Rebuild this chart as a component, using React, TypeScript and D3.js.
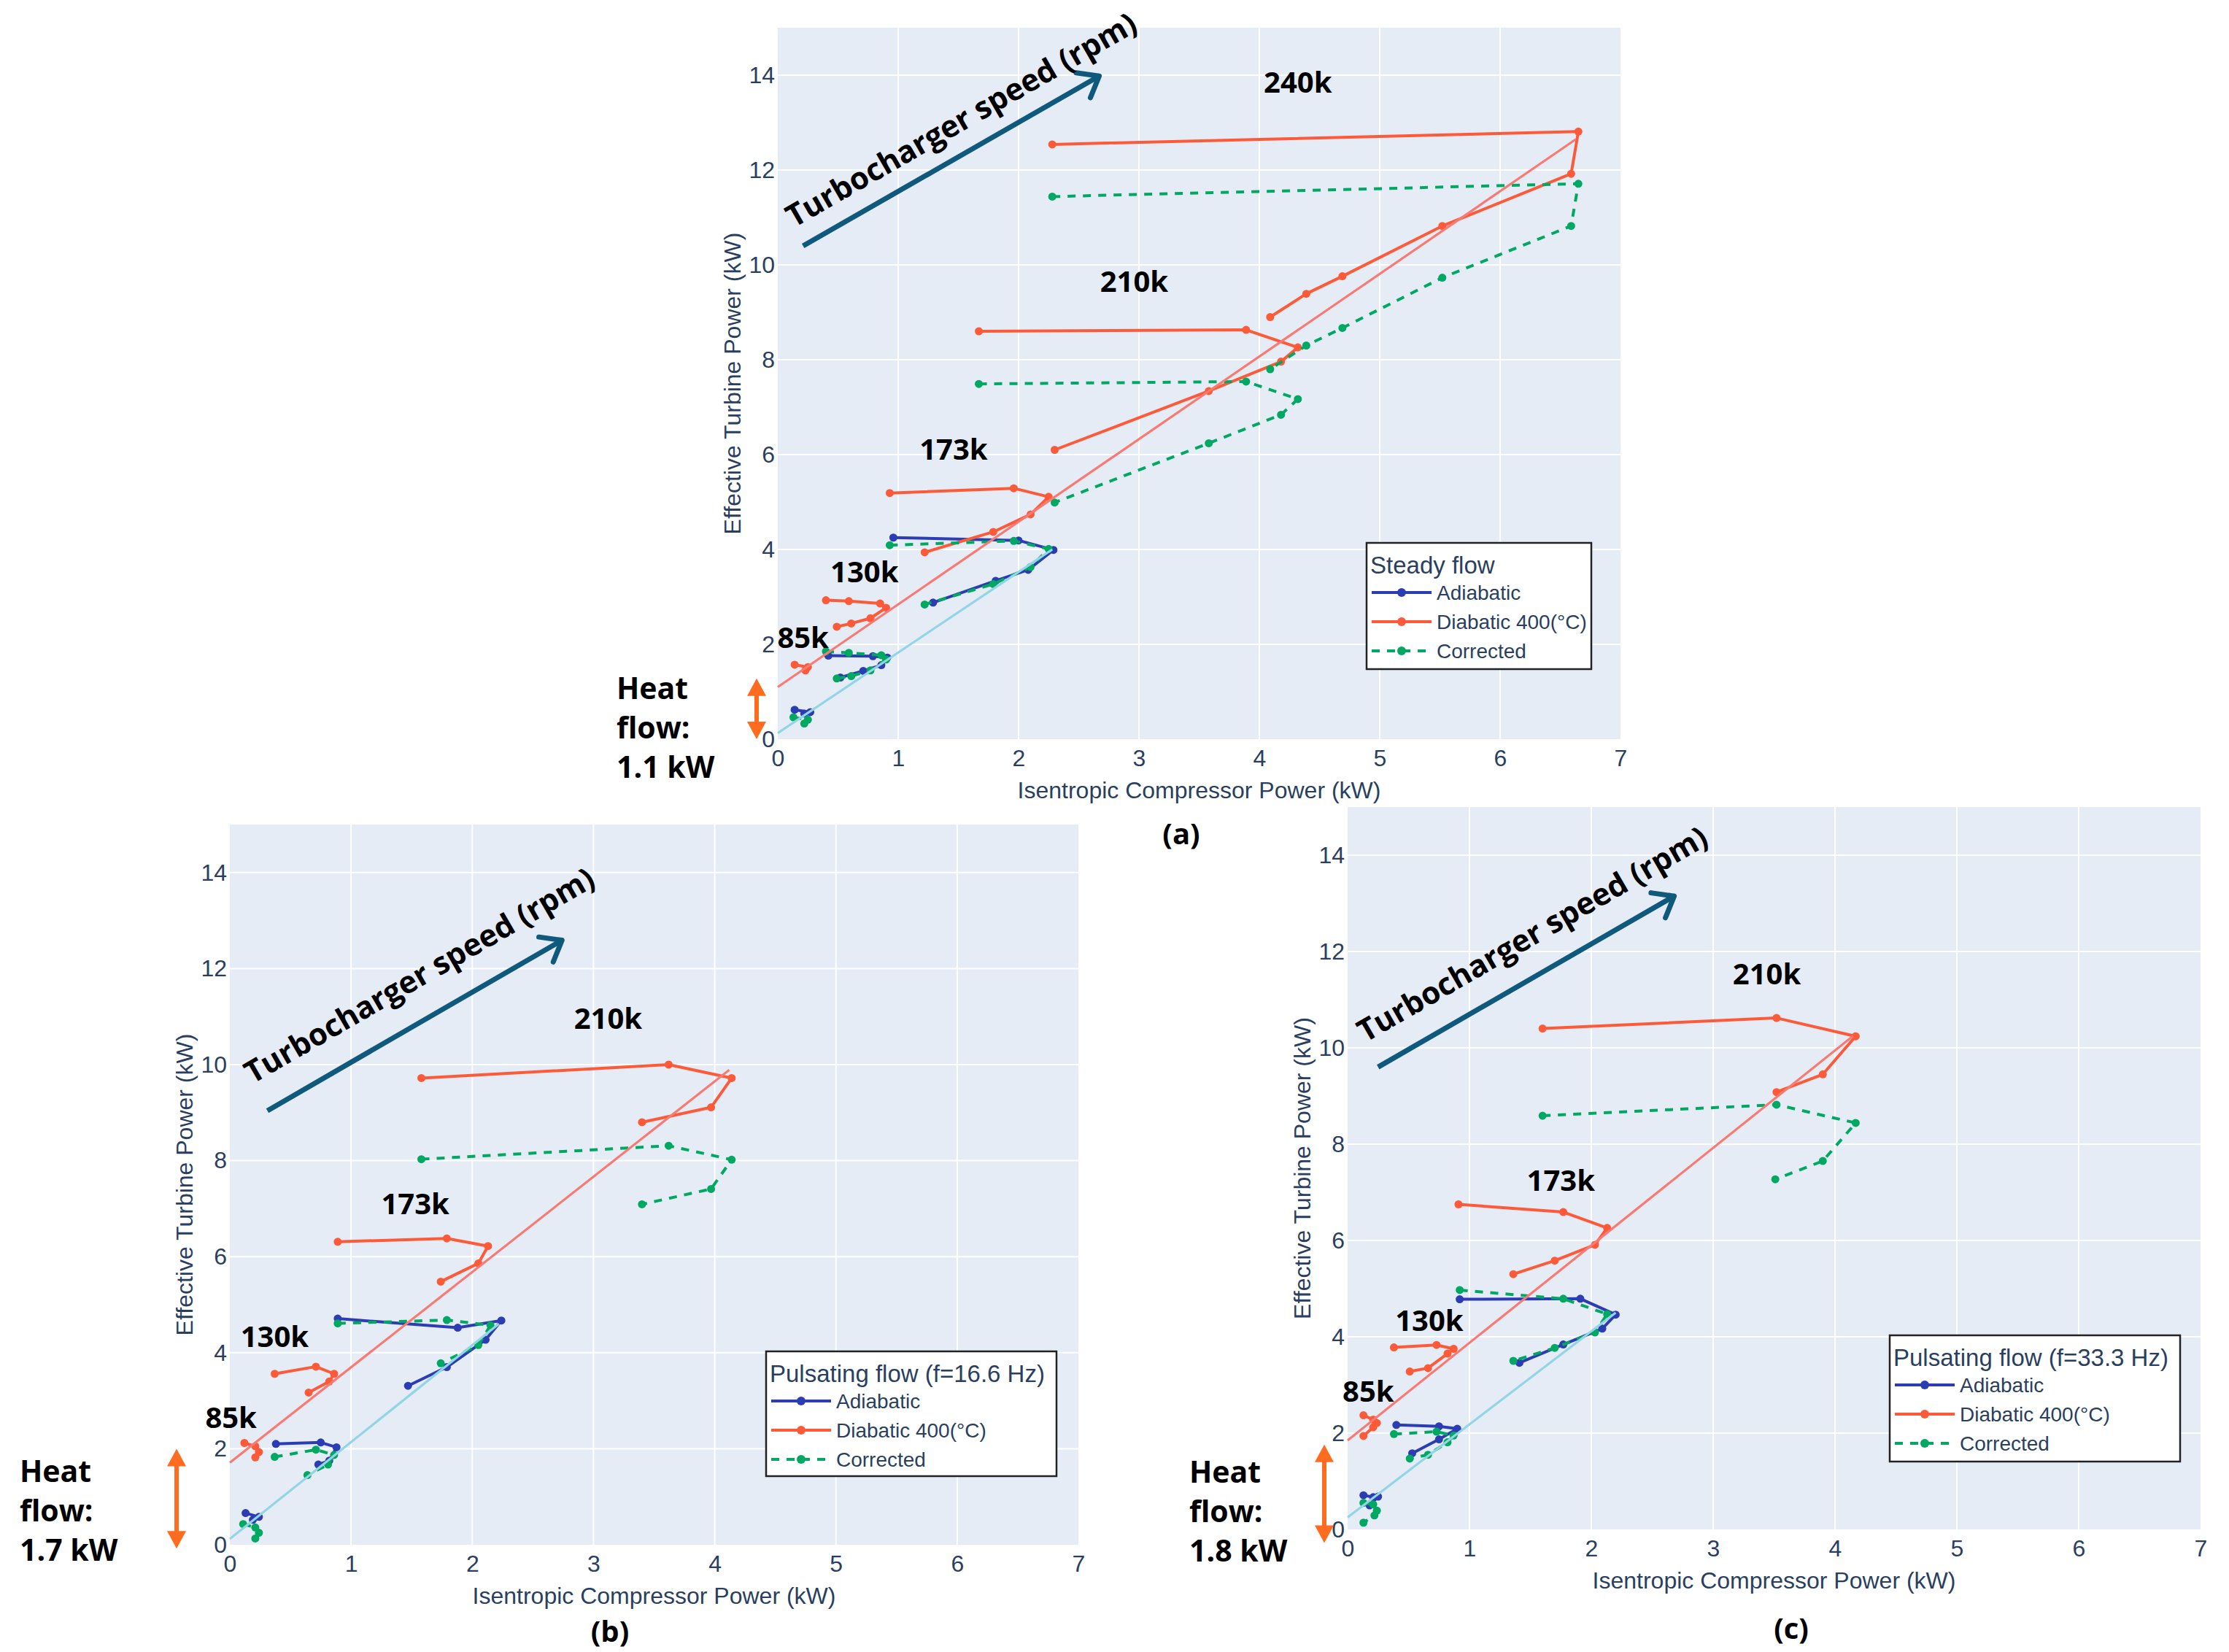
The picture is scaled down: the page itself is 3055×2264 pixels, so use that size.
import React, { useEffect, useRef } from "react";
import * as d3 from "d3";

type Pt = [number, number];

// shared axis ticks and legend entries
const xTicks = [0, 1, 2, 3, 4, 5, 6, 7];
const yTicks = [0, 2, 4, 6, 8, 10, 12, 14];
const seriesNames = ["Adiabatic", "Diabatic 400(°C)", "Corrected"];

// ---- (a) steady flow
const aAdiabatic: Pt[][] = [
  [[0.14, 0.62], [0.27, 0.57], [0.22, 0.54]],
  [[0.42, 1.76], [0.79, 1.75], [0.91, 1.72], [0.86, 1.56], [0.71, 1.44], [0.52, 1.3]],
  [[0.96, 4.25], [2.0, 4.19], [2.29, 3.99], [2.08, 3.57], [1.81, 3.34], [1.29, 2.88]],
];
const aDiabatic: Pt[][] = [
  [[0.14, 1.57], [0.25, 1.52], [0.23, 1.45]],
  [[0.4, 2.93], [0.59, 2.91], [0.85, 2.86], [0.9, 2.77], [0.77, 2.55], [0.61, 2.44], [0.49, 2.37]],
  [[0.93, 5.19], [1.96, 5.29], [2.25, 5.11], [2.1, 4.74], [1.79, 4.37], [1.22, 3.94]],
  [[1.67, 8.6], [3.89, 8.63], [4.32, 8.26], [4.18, 7.96], [3.58, 7.34], [2.3, 6.1]],
  [[2.28, 12.54], [6.65, 12.81], [6.59, 11.92], [5.52, 10.82], [4.69, 9.76], [4.39, 9.39], [4.09, 8.9]],
];
const aCorrected: Pt[][] = [
  [[0.13, 0.46], [0.25, 0.41], [0.22, 0.33]],
  [[0.4, 1.85], [0.59, 1.82], [0.86, 1.77], [0.9, 1.68], [0.77, 1.45], [0.61, 1.33], [0.49, 1.28]],
  [[0.93, 4.09], [1.96, 4.18], [2.25, 4.01], [2.1, 3.63], [1.79, 3.27], [1.22, 2.84]],
  [[1.67, 7.49], [3.89, 7.54], [4.32, 7.17], [4.18, 6.84], [3.58, 6.24], [2.3, 4.99]],
  [[2.28, 11.44], [6.65, 11.71], [6.59, 10.82], [5.52, 9.73], [4.69, 8.67], [4.39, 8.3], [4.09, 7.8]],
];
const aRefDiabatic: Pt[] = [[0, 1.1], [6.63, 12.65]];
const aRefAdiabatic: Pt[] = [[0, 0.13], [2.28, 4.0]];
const aSpeeds = ["85k", "130k", "173k", "210k", "240k"];
const aSpeedAt: Pt[] = [[0.21, 2.16], [0.72, 3.55], [1.46, 6.13], [2.96, 9.67], [4.32, 13.87]];
const aTurbo: Pt[] = [[0.21, 10.4], [2.67, 13.98]];
const aHeat = [0, 1.28];

// ---- (b) pulsating flow 16.6 Hz
const bAdiabatic: Pt[][] = [
  [[0.13, 0.66], [0.24, 0.58], [0.19, 0.52]],
  [[0.38, 2.1], [0.75, 2.13], [0.88, 2.03], [0.82, 1.75], [0.73, 1.67]],
  [[0.89, 4.71], [1.88, 4.52], [2.24, 4.67], [2.11, 4.27], [1.79, 3.7], [1.47, 3.31]],
];
const bDiabatic: Pt[][] = [
  [[0.12, 2.12], [0.21, 2.05], [0.24, 1.93], [0.21, 1.82]],
  [[0.37, 3.56], [0.71, 3.71], [0.86, 3.56], [0.82, 3.4], [0.65, 3.17]],
  [[0.89, 6.31], [1.79, 6.38], [2.13, 6.22], [2.05, 5.86], [1.74, 5.48]],
  [[1.58, 9.72], [3.62, 10.0], [4.14, 9.72], [3.97, 9.11], [3.4, 8.8]],
];
const bCorrected: Pt[][] = [
  [[0.11, 0.43], [0.21, 0.36], [0.24, 0.25], [0.21, 0.13]],
  [[0.37, 1.83], [0.71, 1.98], [0.86, 1.87], [0.81, 1.67], [0.64, 1.45]],
  [[0.89, 4.61], [1.79, 4.68], [2.15, 4.57], [2.05, 4.16], [1.74, 3.78]],
  [[1.58, 8.03], [3.62, 8.31], [4.14, 8.02], [3.97, 7.41], [3.4, 7.09]],
];
const bRefDiabatic: Pt[] = [[0, 1.71], [4.12, 9.89]];
const bRefAdiabatic: Pt[] = [[0, 0.12], [2.22, 4.6]];
const bSpeeds = ["85k", "130k", "173k", "210k"];
const bSpeedAt: Pt[] = [[0.01, 2.67], [0.37, 4.36], [1.53, 7.12], [3.12, 10.98]];
const bTurbo: Pt[] = [[0.31, 9.04], [2.74, 12.59]];
const bHeat = [-0.08, 2.0];

// ---- (c) pulsating flow 33.3 Hz
const cAdiabatic: Pt[][] = [
  [[0.13, 0.71], [0.21, 0.67], [0.25, 0.68], [0.18, 0.5]],
  [[0.4, 2.17], [0.75, 2.14], [0.9, 2.09], [0.75, 1.87], [0.53, 1.58]],
  [[0.92, 4.78], [1.91, 4.79], [2.2, 4.46], [2.09, 4.17], [1.77, 3.84], [1.41, 3.46]],
];
const cDiabatic: Pt[][] = [
  [[0.13, 2.37], [0.21, 2.28], [0.24, 2.21], [0.21, 2.12], [0.13, 1.94]],
  [[0.38, 3.78], [0.73, 3.83], [0.87, 3.75], [0.82, 3.65], [0.66, 3.35], [0.51, 3.28]],
  [[0.91, 6.75], [1.77, 6.59], [2.13, 6.26], [2.03, 5.91], [1.7, 5.58], [1.36, 5.3]],
  [[1.6, 10.4], [3.52, 10.62], [4.17, 10.24], [3.9, 9.45], [3.52, 9.08]],
];
const cCorrected: Pt[][] = [
  [[0.13, 0.55], [0.21, 0.52], [0.24, 0.39], [0.22, 0.29], [0.13, 0.14]],
  [[0.38, 1.98], [0.73, 2.03], [0.87, 1.95], [0.82, 1.81], [0.66, 1.55], [0.51, 1.47]],
  [[0.92, 4.97], [1.77, 4.79], [2.13, 4.47], [2.03, 4.09], [1.7, 3.77], [1.36, 3.5]],
  [[1.6, 8.59], [3.52, 8.82], [4.17, 8.44], [3.9, 7.65], [3.51, 7.27]],
];
const cRefDiabatic: Pt[] = [[0, 1.85], [4.15, 10.25]];
const cRefAdiabatic: Pt[] = [[0, 0.25], [2.2, 4.5]];
const cSpeeds = ["85k", "130k", "173k", "210k"];
const cSpeedAt: Pt[] = [[0.17, 2.89], [0.67, 4.36], [1.75, 7.26], [3.44, 11.56]];
const cTurbo: Pt[] = [[0.25, 9.6], [2.68, 13.15]];
const cHeat = [-0.28, 1.76];

const FONT = "'Liberation Sans', Arial, Helvetica, sans-serif";
const BOLD = "'Open Sans', 'Liberation Sans', Arial, sans-serif";
const INK = "#2a3f5f";
const C_ADIA = "#2c3db4";
const C_DIAB = "#fc5a38";
const C_CORR = "#00a862";
const C_REF_DIAB = "#f87a72";
const C_REF_ADIA = "#92d5e4";
const C_TURBO = "#0f5a7c";
const C_HEAT = "#ff6b1f";
const DASH = "11,10";

interface PanelData {
  adiabatic: Pt[][];
  diabatic: Pt[][];
  corrected: Pt[][];
  refDiabatic: Pt[];
  refAdiabatic: Pt[];
  speeds: string[];
  speedAt: Pt[];
  turbo: Pt[];
  heat: number[];
  heatLabel: string;
  legendTitle: string;
  tag: string;
}

interface Layout {
  left: number;
  top: number;
  width: number;
  height: number;
  legend: [number, number, number, number];
  heatX: number;
  heatText: [number, number];
  tagAt: [number, number];
  turboGap: number;
}

const panels: [PanelData, Layout][] = [
  [
    {
      adiabatic: aAdiabatic, diabatic: aDiabatic, corrected: aCorrected,
      refDiabatic: aRefDiabatic, refAdiabatic: aRefAdiabatic,
      speeds: aSpeeds, speedAt: aSpeedAt, turbo: aTurbo, heat: aHeat,
      heatLabel: "1.1 kW", legendTitle: "Steady flow", tag: "(a)",
    },
    {
      left: 1066, top: 38, width: 1155, height: 975,
      legend: [1873, 744, 308, 173], heatX: 1037, heatText: [845, 958], tagAt: [1619, 1157],
      turboGap: 44,
    },
  ],
  [
    {
      adiabatic: bAdiabatic, diabatic: bDiabatic, corrected: bCorrected,
      refDiabatic: bRefDiabatic, refAdiabatic: bRefAdiabatic,
      speeds: bSpeeds, speedAt: bSpeedAt, turbo: bTurbo, heat: bHeat,
      heatLabel: "1.7 kW", legendTitle: "Pulsating flow (f=16.6 Hz)", tag: "(b)",
    },
    {
      left: 315, top: 1130, width: 1163, height: 987,
      legend: [1050, 1852, 398, 171], heatX: 242, heatText: [27, 2031], tagAt: [836, 2250],
      turboGap: 58,
    },
  ],
  [
    {
      adiabatic: cAdiabatic, diabatic: cDiabatic, corrected: cCorrected,
      refDiabatic: cRefDiabatic, refAdiabatic: cRefAdiabatic,
      speeds: cSpeeds, speedAt: cSpeedAt, turbo: cTurbo, heat: cHeat,
      heatLabel: "1.8 kW", legendTitle: "Pulsating flow (f=33.3 Hz)", tag: "(c)",
    },
    {
      left: 1847, top: 1106, width: 1169, height: 990,
      legend: [2590, 1830, 398, 173], heatX: 1815, heatText: [1630, 2032], tagAt: [2455, 2246],
      turboGap: 54,
    },
  ],
];

function drawPanel(svg: d3.Selection<SVGSVGElement, unknown, null, undefined>, d: PanelData, L: Layout) {
  const x = d3.scaleLinear().domain([0, 7]).range([L.left, L.left + L.width]);
  const y = d3.scaleLinear().domain([0, 15]).range([L.top + L.height, L.top]);
  const g = svg.append("g");
  const bottom = L.top + L.height;

  g.append("rect")
    .attr("x", L.left).attr("y", L.top)
    .attr("width", L.width).attr("height", L.height)
    .attr("fill", "#e5ecf6");

  // grid
  g.append("g").selectAll("line")
    .data(xTicks.filter((t) => t > 0 && t < 7))
    .join("line")
    .attr("x1", (t) => x(t)).attr("x2", (t) => x(t))
    .attr("y1", L.top).attr("y2", bottom)
    .attr("stroke", "#fff").attr("stroke-width", 2);
  g.append("g").selectAll("line")
    .data(yTicks.filter((t) => t > 0))
    .join("line")
    .attr("y1", (t) => y(t)).attr("y2", (t) => y(t))
    .attr("x1", L.left).attr("x2", L.left + L.width)
    .attr("stroke", "#fff").attr("stroke-width", 2);

  // axes
  const ax = g.append("g")
    .attr("transform", `translate(0,${bottom})`)
    .call(d3.axisBottom(x).tickValues(xTicks).tickSize(0).tickPadding(14).tickFormat(d3.format("d")));
  const ay = g.append("g")
    .attr("transform", `translate(${L.left},0)`)
    .call(d3.axisLeft(y).tickValues(yTicks).tickSize(0).tickPadding(4).tickFormat(d3.format("d")));
  [ax, ay].forEach((a) => {
    a.select(".domain").remove();
    a.selectAll("text").attr("font-size", 32).attr("font-family", FONT).attr("fill", INK);
  });

  g.append("text")
    .attr("x", L.left + L.width / 2).attr("y", bottom + 70)
    .attr("text-anchor", "middle").attr("dominant-baseline", "central")
    .attr("font-family", FONT).attr("font-size", 32).attr("fill", INK)
    .text("Isentropic Compressor Power (kW)");
  g.append("text")
    .attr("transform", `translate(${L.left - 62},${L.top + L.height / 2}) rotate(-90)`)
    .attr("text-anchor", "middle").attr("dominant-baseline", "central")
    .attr("font-family", FONT).attr("font-size", 32).attr("fill", INK)
    .text("Effective Turbine Power (kW)");

  // traces
  const line = d3.line<Pt>().x((p) => x(p[0])).y((p) => y(p[1]));
  const trace = (segs: Pt[][], color: string, dash: string | null) => {
    segs.forEach((seg) => {
      g.append("path")
        .attr("d", line(seg))
        .attr("fill", "none").attr("stroke", color).attr("stroke-width", 4)
        .attr("stroke-linejoin", "round")
        .attr("stroke-dasharray", dash);
      g.append("g").selectAll("circle")
        .data(seg)
        .join("circle")
        .attr("cx", (p) => x(p[0])).attr("cy", (p) => y(p[1]))
        .attr("r", 5.5).attr("fill", color);
    });
  };
  trace(d.adiabatic, C_ADIA, null);
  trace(d.diabatic, C_DIAB, null);
  trace(d.corrected, C_CORR, DASH);

  g.append("path").attr("d", line(d.refDiabatic))
    .attr("stroke", C_REF_DIAB).attr("stroke-width", 3.2).attr("fill", "none");
  g.append("path").attr("d", line(d.refAdiabatic))
    .attr("stroke", C_REF_ADIA).attr("stroke-width", 3.2).attr("fill", "none");

  // speed labels
  g.append("g").selectAll("text")
    .data(d.speeds)
    .join("text")
    .attr("x", (_, i) => x(d.speedAt[i][0])).attr("y", (_, i) => y(d.speedAt[i][1]))
    .attr("text-anchor", "middle").attr("dominant-baseline", "central")
    .attr("font-family", BOLD).attr("font-weight", 700).attr("font-size", 40).attr("fill", "#000")
    .text((s) => s);

  // turbocharger speed arrow
  const x0 = x(d.turbo[0][0]), y0 = y(d.turbo[0][1]);
  const x1 = x(d.turbo[1][0]), y1 = y(d.turbo[1][1]);
  const len = Math.hypot(x1 - x0, y1 - y0);
  const ux = (x1 - x0) / len, uy = (y1 - y0) / len;
  const ang = Math.atan2(y1 - y0, x1 - x0);
  g.append("line")
    .attr("x1", x0).attr("y1", y0).attr("x2", x1 - ux * 3).attr("y2", y1 - uy * 3)
    .attr("stroke", C_TURBO).attr("stroke-width", 7);
  const head = 32, spread = (38 * Math.PI) / 180;
  const hp = [ang + Math.PI - spread, ang + Math.PI + spread]
    .map((a) => `M${x1 + Math.cos(a) * head},${y1 + Math.sin(a) * head}L${x1},${y1}`)
    .join("");
  g.append("path").attr("d", hp)
    .attr("stroke", C_TURBO).attr("stroke-width", 7).attr("fill", "none")
    .attr("stroke-linecap", "round").attr("stroke-linejoin", "miter");
  const gap = L.turboGap;
  const mx = (x0 + x1) / 2 + uy * gap + ux * 40, my = (y0 + y1) / 2 - ux * gap + uy * 40;
  g.append("text")
    .attr("transform", `translate(${mx},${my}) rotate(${(ang * 180) / Math.PI})`)
    .attr("text-anchor", "middle").attr("dominant-baseline", "central")
    .attr("font-family", BOLD).attr("font-weight", 700).attr("font-size", 42).attr("fill", "#000")
    .text("Turbocharger speed (rpm)");

  // heat flow arrow and text
  const hTop = y(d.heat[1]), hBot = y(d.heat[0]);
  const hx = L.heatX;
  g.append("line")
    .attr("x1", hx).attr("x2", hx).attr("y1", hTop + 20).attr("y2", hBot - 20)
    .attr("stroke", C_HEAT).attr("stroke-width", 6);
  g.append("path")
    .attr("d", `M${hx},${hTop}L${hx - 13},${hTop + 24}L${hx + 13},${hTop + 24}Z M${hx},${hBot}L${hx - 13},${hBot - 24}L${hx + 13},${hBot - 24}Z`)
    .attr("fill", C_HEAT);
  g.append("g").selectAll("text")
    .data(["Heat", "flow:", d.heatLabel])
    .join("text")
    .attr("x", L.heatText[0]).attr("y", (_, i) => L.heatText[1] + i * 54)
    .attr("font-family", BOLD).attr("font-weight", 700).attr("font-size", 41).attr("fill", "#000")
    .text((s) => s);

  // legend
  const [lx, ly, lw, lh] = L.legend;
  const lg = g.append("g");
  lg.append("rect")
    .attr("x", lx).attr("y", ly).attr("width", lw).attr("height", lh)
    .attr("fill", "#fff").attr("stroke", "#222").attr("stroke-width", 2.5);
  lg.append("text")
    .attr("x", lx + 5).attr("y", ly + 42)
    .attr("font-family", FONT).attr("font-size", 33).attr("fill", INK)
    .text(d.legendTitle);
  const colors = [C_ADIA, C_DIAB, C_CORR];
  seriesNames.forEach((name, i) => {
    const cy = ly + 68 + i * 40;
    lg.append("line")
      .attr("x1", lx + 7).attr("x2", lx + 89).attr("y1", cy).attr("y2", cy)
      .attr("stroke", colors[i]).attr("stroke-width", 4)
      .attr("stroke-dasharray", i === 2 ? DASH : null);
    lg.append("circle").attr("cx", lx + 48).attr("cy", cy).attr("r", 6).attr("fill", colors[i]);
    lg.append("text")
      .attr("x", lx + 96).attr("y", cy)
      .attr("dominant-baseline", "central")
      .attr("font-family", FONT).attr("font-size", 28).attr("fill", INK)
      .text(name);
  });

  // panel tag
  g.append("text")
    .attr("x", L.tagAt[0]).attr("y", L.tagAt[1])
    .attr("text-anchor", "middle")
    .attr("font-family", BOLD).attr("font-weight", 700).attr("font-size", 40).attr("fill", "#000")
    .text(d.tag);
}

const App = () => {
  const svgRef = useRef<SVGSVGElement>(null);
  useEffect(() => {
    if (!svgRef.current) return;
    const svg = d3.select(svgRef.current);
    svg.selectAll("*").remove();
    panels.forEach(([d, L]) => drawPanel(svg, d, L));
  }, []);

  return (
    <div style={{ position: "absolute", left: 0, top: 0, background: "#fff" }}>
      <svg ref={svgRef} width={3055} height={2264} style={{ display: "block" }} />
    </div>
  );
};

export default App;
